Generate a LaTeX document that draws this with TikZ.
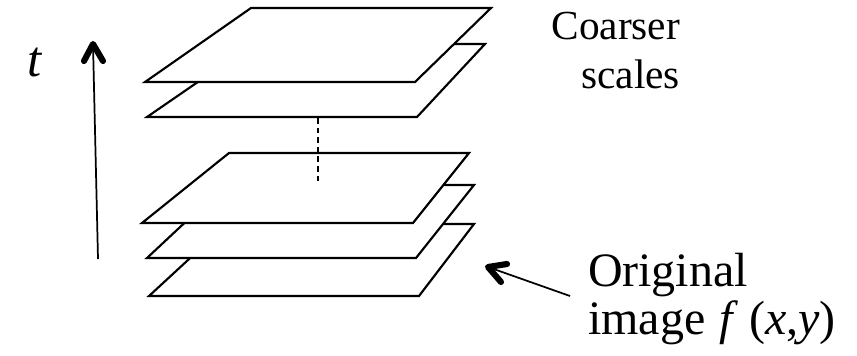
\documentclass[tikz,border=0pt]{standalone}
\usepackage{fontspec}
\setmainfont{Liberation Serif}
\begin{document}
\begin{tikzpicture}[x=0.75pt,y=-0.75pt,
  plane/.style={draw=black,fill=white,line width=1.6pt,line join=miter},
  lbl/.style={inner sep=0pt,outer sep=0pt},
  shaft/.style={line width=1.3pt},
  barbhead/.style={line width=4.6pt,line cap=round,line join=round}]
\useasboundingbox (0,0) rectangle (857,355);
% planes, bottom first
\draw[plane] (149,296) -- (227,224) -- (474,224) -- (419,296) -- cycle;
\draw[plane] (147,258) -- (225,185) -- (474,185) -- (416,258) -- cycle;
\draw[plane] (142,223) -- (229,153) -- (469,153) -- (413,223) -- cycle;
\coordinate (d1) at (318,118);
\coordinate (d2) at (318,184);
\draw[line width=1.5pt,dash pattern=on 4.2pt off 3pt] (d1) -- (d2);
\draw[plane] (147,117) -- (253,44) -- (485,44) -- (417,117) -- cycle;
\draw[plane] (145,82) -- (251,8) -- (491,8) -- (415,82) -- cycle;
% time axis
\coordinate (tbot) at (98,259);
\coordinate (ttop) at (93,44);
\coordinate (tl) at (84,61);
\coordinate (tr) at (103,61);
\draw[shaft] (tbot) -- (ttop);
\draw[barbhead] (tl) -- (ttop) -- (tr);
\node[lbl,anchor=base] (t) at (35,76) {\fontsize{38}{46}\selectfont\textit{t}};
% labels
\node[lbl,anchor=base east,align=right,font=\fontsize{31}{36.75}\selectfont] (coarse) at (680,88) {Coarser\\scales};
\node[lbl,anchor=base west,align=left,font=\fontsize{36}{36}\selectfont] (orig) at (588,334)
  {Original\\image\hspace{0.3em}\textit{f}\hspace{0.22em}(\textit{x},\textit{y})};
\coordinate (otail) at (570,296);
\coordinate (otip) at (488,267);
\coordinate (ol1) at (507,264);
\coordinate (ol2) at (501,282);
\draw[shaft] (otail) -- (otip);
\draw[barbhead] (ol1) -- (otip) -- (ol2);
\end{tikzpicture}
\end{document}
